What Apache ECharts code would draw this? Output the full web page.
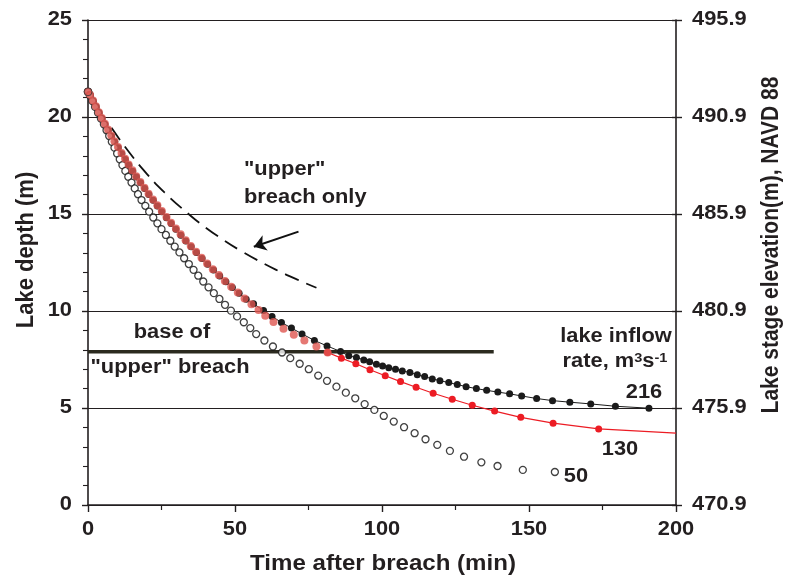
<!DOCTYPE html>
<html>
<head>
<meta charset="utf-8">
<script src="https://cdn.jsdelivr.net/npm/echarts@6/dist/echarts.min.js"></script>
<style>
  html, body { margin: 0; padding: 0; background: #fff; }
  #main { width: 788px; height: 576px; }
</style>
</head>
<body>
<div id="main"></div>
<script>
// ---- data: [time after breach (min), lake depth (m)] ----
const inflow50 = [
  [0,21.3],[0.6,21.12],[1.5,20.82],[2.4,20.52],[3.4,20.22],[4.4,19.92],[5.4,19.62],[6.3,19.32],
  [7.2,19.02],[8.1,18.72],[9.0,18.42],[9.9,18.12],[10.8,17.82],[11.7,17.52],[12.7,17.22],[13.7,16.92],
  [14.8,16.62],[15.9,16.32],[17.0,16.02],[18.2,15.72],[19.5,15.42],[20.8,15.12],[22.2,14.82],[23.6,14.52],
  [25.0,14.22],[26.5,13.92],[28.0,13.62],[29.5,13.32],[31.1,13.02],[32.7,12.72],[34.3,12.42],[35.9,12.12],
  [37.5,11.82],[39.2,11.52],[41.0,11.22],[42.8,10.92],[44.7,10.62],[46.6,10.32],[48.6,10.02],[50.7,9.72],
  [53.0,9.42],[55.2,9.12],[57.2,8.81],[60.0,8.48],[62.9,8.17],[66.0,7.86],[68.8,7.57],[72.0,7.28],
  [75.1,7.00],[78.3,6.67],[81.3,6.40],[84.5,6.10],[87.7,5.79],[90.9,5.50],[94.1,5.20],[97.4,4.90],
  [100.6,4.59],[104.0,4.30],[107.5,4.01],[111.1,3.70],[114.8,3.39],[118.8,3.10],[123.1,2.79],[127.9,2.49],
  [133.8,2.20],[139.3,2.01],[147.9,1.81],[158.8,1.70]
];
const inflow130Early = [
  [0.7,21.15],[1.7,20.85],[2.7,20.55],[3.7,20.25],[4.7,19.95],[5.75,19.65],[6.8,19.35],[7.9,19.05],
  [9.0,18.75],[10.2,18.45],[11.4,18.15],[12.6,17.85],[13.8,17.55],[15.1,17.25],[16.4,16.95],[17.8,16.65],
  [19.2,16.35],[20.6,16.05],[22.1,15.75],[23.6,15.45],[25.1,15.15],[26.7,14.85],[28.25,14.55],[29.9,14.25],
  [31.5,13.95],[33.2,13.65],[34.95,13.35],[36.75,13.05],[38.6,12.75],[40.5,12.45],[42.45,12.15],[44.5,11.85],
  [46.55,11.55],[48.7,11.25],[50.95,10.95],[53.25,10.65],[55.6,10.35],[58.0,10.05],[60.3,9.75],[63.1,9.43],
  [66.5,9.08],[70.0,8.77],[73.6,8.48],[77.7,8.17],[81.5,7.86]
];
const inflow130Late = [
  [81.5,7.86],[86.2,7.57],[91.1,7.28],[95.9,6.97],[101.1,6.66],[106.3,6.36],[111.6,6.07],[117.4,5.76],
  [123.9,5.45],[130.7,5.14],[138.3,4.84],[147.2,4.52],[158.2,4.22],[173.7,3.92]
];
const inflow130Tail = [200, 3.70];
const inflow216 = [
  [0,21.3],[0.8,21.11],[1.8,20.81],[2.8,20.51],[3.8,20.21],[4.8,19.91],[5.8,19.61],[6.9,19.31],
  [8.0,19.01],[9.1,18.71],[10.3,18.41],[11.5,18.11],[12.7,17.81],[13.9,17.51],[15.2,17.21],[16.5,16.91],
  [17.9,16.61],[19.3,16.31],[20.7,16.01],[22.2,15.71],[23.6,15.41],[25.1,15.11],[26.7,14.81],[28.3,14.51],
  [29.9,14.21],[31.6,13.91],[33.3,13.61],[35.1,13.31],[36.9,13.01],[38.8,12.71],[40.7,12.41],[42.7,12.11],
  [44.8,11.81],[46.9,11.51],[49.1,11.21],[51.4,10.91],[53.8,10.61],[56.3,10.37],[59.7,10.03],[62.6,9.72],
  [65.8,9.41],[69.2,9.12],[72.8,8.82],[77.0,8.48],[81.3,8.20],[85.9,7.91],[88.7,7.69],[91.3,7.60],
  [93.8,7.48],[95.8,7.39],[98.1,7.26],[100.2,7.17],[102.3,7.08],[104.6,7.00],[106.9,6.91],[109.5,6.83],
  [112.0,6.71],[114.5,6.62],[117.1,6.50],[119.7,6.41],[122.7,6.31],[125.6,6.21],[128.6,6.10],[132.1,6.00],
  [135.6,5.91],[139.4,5.82],[143.4,5.73],[147.5,5.62],[152.6,5.49],[158.0,5.38],[163.9,5.30],[171.0,5.21],
  [179.4,5.09],[190.8,4.99]
];
const upperBreachOnly = [
  [8,19.44],[14,18.18],[20,17.07],[26,16.11],[34.2,15.0],[40,14.3],[46,13.67],[52,13.1],
  [58.6,12.54],[65,12.05],[71,11.63],[77.7,11.2]
];
const upperBreachBase = [[0,7.9],[138,7.9]];
const startPoint = [[0,21.3]];
const arrowPath = [[71.6,14.09],[56.4,13.31]];

const depthTicks = [0,5,10,15,20,25];
const elevationTickLabels = ['470.9','475.9','480.9','485.9','490.9','495.9'];
const timeTicks = [0,50,100,150,200];

const FONT = '"Liberation Sans", Arial, Helvetica, sans-serif';
const INK = '#231f20';
const SX = 1.12;          // horizontal stretch of the reference lettering
const TICK_FONT = 'bold 19.5px ' + FONT;
const NOTE_FONT = 'bold 19.5px ' + FONT;

const chart = echarts.init(document.getElementById('main'), null, {renderer: 'canvas'});

chart.setOption({
  animation: false,
  backgroundColor: '#fff',
  grid: {left: 88, right: 112, top: 20, bottom: 71, containLabel: false},
  xAxis: {
    type: 'value', min: timeTicks[0], max: timeTicks[timeTicks.length-1], interval: 50,
    axisLine: {show: true, onZero: false, lineStyle: {color: INK, width: 1.6}},
    axisTick: {show: true, length: 7, lineStyle: {color: INK, width: 1.4}},
    minorTick: {show: true, splitNumber: 2, length: 5, lineStyle: {color: INK, width: 1.2}},
    axisLabel: {show: false},
    splitLine: {show: false}
  },
  yAxis: [{
    type: 'value', min: depthTicks[0], max: depthTicks[depthTicks.length-1], interval: 5,
    axisLine: {show: true, lineStyle: {color: INK, width: 1.6}},
    axisTick: {show: true, length: 6, lineStyle: {color: INK, width: 1.4}},
    minorTick: {show: true, splitNumber: 5, length: 5, lineStyle: {color: INK, width: 1.1}},
    axisLabel: {show: false},
    splitLine: {show: true, lineStyle: {color: INK, width: 1.1}}
  }, {
    type: 'value', position: 'right', min: 0, max: 25, interval: 5,
    axisLine: {show: true, lineStyle: {color: INK, width: 1.6}},
    axisTick: {show: true, length: 6, lineStyle: {color: INK, width: 1.4}},
    axisLabel: {show: false},
    splitLine: {show: false}
  }, {
    type: 'value', position: 'right', min: 0, max: 25, interval: 5,
    axisLine: {show: false},
    axisTick: {show: true, inside: true, length: 4, lineStyle: {color: INK, width: 1.4}},
    axisLabel: {show: false},
    splitLine: {show: false}
  }],
  series: [
    {
      name: '216', type: 'line', data: inflow216, z: 2,
      symbol: 'circle', symbolSize: 7, showSymbol: true,
      itemStyle: {color: '#1b1b1b'},
      lineStyle: {color: '#1b1b1b', width: 1}
    },
    {
      name: '50', type: 'scatter', data: inflow50, z: 3,
      symbol: 'circle', symbolSize: 7,
      itemStyle: {color: '#ffffff', borderColor: '#111', borderWidth: 1.3}
    },
    {
      name: '130', type: 'line', z: 4,
      data: inflow130Late.concat([{value: inflow130Tail, symbol: 'none'}]),
      symbol: 'circle', symbolSize: 7, showSymbol: true,
      itemStyle: {color: '#ec1c24'},
      lineStyle: {color: '#ec1c24', width: 1.2}
    },
    {
      name: '130 early', type: 'scatter', data: inflow130Early, z: 5,
      symbol: 'circle', symbolSize: 8,
      itemStyle: {color: '#df5650'}
    },
    {
      name: 'start', type: 'scatter', data: startPoint, z: 6,
      symbol: 'circle', symbolSize: 8,
      itemStyle: {color: '#df5650', borderColor: '#333', borderWidth: 1}
    },
    {
      name: 'upper breach only', type: 'line', data: upperBreachOnly, z: 2,
      symbol: 'none', smooth: true,
      lineStyle: {color: '#111', width: 1.8, type: [15, 8]}
    },
    {
      name: 'base', type: 'line', data: upperBreachBase, z: 2,
      symbol: 'none',
      lineStyle: {color: '#2b2a1f', width: 3.5}
    },
    {
      name: 'arrow', type: 'lines', coordinateSystem: 'cartesian2d', z: 6,
      symbol: ['none', 'arrow'], symbolSize: 12,
      data: [{coords: arrowPath}],
      lineStyle: {color: '#111', width: 2, opacity: 1}
    }
  ]
});

// ---- all lettering (tick labels placed through the axes' own scales) ----
const g = [];
const txt = (x, y, text, font, align, vAlign, extra) => Object.assign({
  type: 'text', x: x, y: y, scaleX: SX, z: 100,
  style: {text: text, font: font, fill: INK, align: align, verticalAlign: vAlign}
}, extra || {});

const xRight = chart.convertToPixel({xAxisIndex: 0}, timeTicks[timeTicks.length-1]);
const xLeft = chart.convertToPixel({xAxisIndex: 0}, timeTicks[0]);
const yZero = chart.convertToPixel({yAxisIndex: 0}, depthTicks[0]);

timeTicks.forEach(v => {
  g.push(txt(chart.convertToPixel({xAxisIndex: 0}, v), yZero + 25, String(v), TICK_FONT, 'center', 'middle'));
});
depthTicks.forEach(v => {
  g.push(txt(xLeft - 16, chart.convertToPixel({yAxisIndex: 0}, v), String(v), TICK_FONT, 'right', 'middle'));
});
elevationTickLabels.forEach((s, i) => {
  g.push(txt(xRight + 16, chart.convertToPixel({yAxisIndex: 1}, i * 5), s, TICK_FONT, 'left', 'middle'));
});

// axis titles
g.push(txt(383, 564, 'Time after breach (min)', 'bold 21.5px ' + FONT, 'center', 'middle'));
g.push({type: 'text', x: 26, y: 250, rotation: Math.PI / 2, scaleY: SX, z: 100,
  style: {text: 'Lake depth (m)', font: 'bold 22px ' + FONT, fill: INK, align: 'center', verticalAlign: 'middle'}});
g.push({type: 'text', x: 772, y: 245, rotation: Math.PI / 2, scaleY: SX, z: 100,
  style: {text: 'Lake stage elevation(m), NAVD 88', font: 'bold 21px ' + FONT, fill: INK, align: 'center', verticalAlign: 'middle'}});

// annotations
g.push(txt(244, 170, '"upper"', NOTE_FONT, 'left', 'middle'));
g.push(txt(244, 198, 'breach only', NOTE_FONT, 'left', 'middle'));
g.push(txt(172, 333, 'base of', NOTE_FONT, 'center', 'middle'));
g.push(txt(170, 368, '"upper" breach', NOTE_FONT, 'center', 'middle'));
g.push(txt(616, 337, 'lake inflow', NOTE_FONT, 'center', 'middle'));
g.push({type: 'text', x: 615, y: 362, scaleX: SX, z: 100, style: {
  text: '{a|rate, m}{s|3}{a|s}{s|-1}', align: 'center', verticalAlign: 'middle',
  rich: {
    a: {font: NOTE_FONT, fill: INK, verticalAlign: 'bottom'},
    s: {font: 'bold 13px ' + FONT, fill: INK, verticalAlign: 'top'}
  }
}});
g.push(txt(644, 393, '216', NOTE_FONT, 'center', 'middle'));
g.push(txt(620, 450, '130', NOTE_FONT, 'center', 'middle'));
g.push(txt(576, 477, '50', NOTE_FONT, 'center', 'middle'));

chart.setOption({graphic: g});
</script>
</body>
</html>
